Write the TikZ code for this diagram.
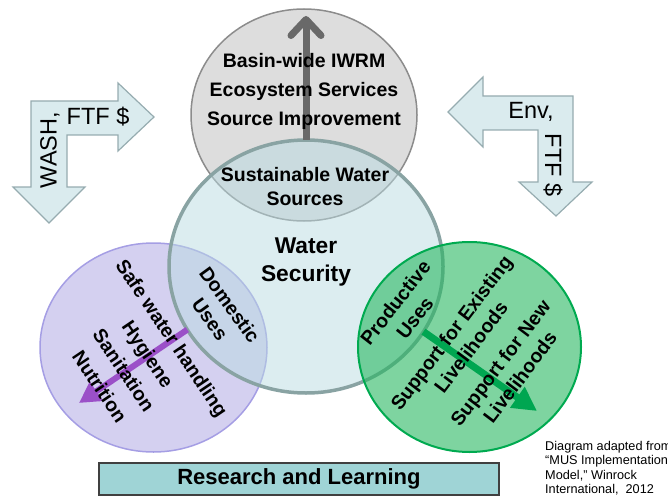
\documentclass[tikz,border=0pt]{standalone}
\usepackage{fontspec}
\setmainfont{Liberation Sans}
\usetikzlibrary{arrows.meta,shapes.geometric}

\definecolor{grisfond}{RGB}{221,221,221}
\definecolor{grisbord}{RGB}{140,140,140}
\definecolor{eaufond}{RGB}{185,219,225}
\definecolor{eaubord}{RGB}{137,163,163}
\definecolor{violetfond}{RGB}{212,208,240}
\definecolor{violetbord}{RGB}{165,158,228}
\definecolor{vertfond}{RGB}{40,183,97}
\definecolor{vertbord}{RGB}{0,170,80}
\definecolor{flechefond}{RGB}{218,235,238}
\definecolor{flechebord}{RGB}{150,172,176}
\definecolor{boitefond}{RGB}{159,212,214}
\definecolor{boitebord}{RGB}{64,64,64}
\definecolor{violetfleche}{RGB}{155,80,200}
\definecolor{vertfleche}{RGB}{0,166,81}
\definecolor{grisfleche}{RGB}{105,105,105}

\newcommand{\grastexte}{\fontsize{19.5}{29}\selectfont\bfseries}
\newcommand{\serretexte}{\fontsize{19.5}{24.5}\selectfont\bfseries}
\newcommand{\fintexte}{\fontsize{23.5}{28}\selectfont}

\begin{document}
\begin{tikzpicture}[x=1pt,y=-1pt,
  bulle/.style={ellipse,inner sep=0pt,outer sep=0pt},
  coude/.style={fill=flechefond,draw=flechebord,line width=1.2pt,line join=miter},
  texte/.style={align=center,inner sep=0pt,font=\grastexte}]
\useasboundingbox (0,0) rectangle (668,497);

% Fleches coudees (financements)
\draw[coude] (31,101) -- (118,101) -- (118,83) -- (154,117) -- (118,151) -- (118,135)
  -- (67,135) -- (67,187) -- (85,187) -- (49,223) -- (13,187) -- (31,187) -- cycle;
\draw[coude] (573,96) -- (573,182) -- (592,182) -- (556,216) -- (519,182) -- (538,182)
  -- (538,130) -- (483,130) -- (483,147) -- (448,112) -- (483,77) -- (483,96) -- cycle;
\node[font=\fintexte,rotate=90,inner sep=0pt] (wash) at (50,150) {WASH,};
\node[font=\fintexte,inner sep=0pt] (ftfg) at (98,117) {FTF \$};
\node[font=\fintexte,inner sep=0pt] (env) at (531,112) {Env,};
\node[font=\fintexte,rotate=-90,inner sep=0pt] (ftfd) at (553,165) {FTF \$};

% Bulles
\node[bulle,fill=grisfond,draw=grisbord,line width=1.5pt,
  minimum width=226pt,minimum height=212pt] (source) at (304,115) {};
\node[bulle,fill=violetfond,draw=violetbord,line width=1.5pt,
  minimum width=227pt,minimum height=209pt] (domestique) at (153.5,347.5) {};
\node[bulle,fill=eaufond,fill opacity=0.5,draw=eaubord,line width=3.5pt,
  minimum width=274pt,minimum height=253pt] (securite) at (306,266.5) {};
\node[bulle,fill=vertfond,fill opacity=0.6,draw=vertbord,line width=2pt,
  minimum width=223pt,minimum height=210pt] (productif) at (469.5,347) {};

% Fleches vers l'exterieur
\coordinate (haut) at (306,16);
\coordinate (basg) at (79,403);
\coordinate (basd) at (537,411);
\draw[grisfleche,line width=7pt,-{Straight Barb[length=16pt,width=30pt,round]}]
  (securite.north) -- (haut);
\draw[violetfleche,line width=6pt,-{Triangle[length=21pt,width=22pt]}]
  (securite.208) -- (basg);
\draw[vertfleche,line width=7pt,-{Triangle[length=24pt,width=24pt]}]
  (securite.331) -- (basd);

% Textes
\node[texte] (bassin) at (304,91.5) {Basin-wide IWRM\\Ecosystem Services\\Source Improvement};
\node[texte,font=\serretexte] (durable) at (305,186.5) {Sustainable Water\\Sources};
\node[texte,font=\fontsize{22.8}{28}\selectfont\bfseries] (eau) at (306,262) {Water\\Security};
\node[texte,font=\serretexte,rotate=-54] (usagesd) at (220,312) {Domestic\\Uses};
\node[texte,rotate=-56] (hygiene) at (136,362) {Safe water handling\\Hygiene\\Sanitation\\Nutrition};
\node[texte,font=\serretexte,rotate=52] (usagesp) at (405,310) {Productive\\Uses};
\node[texte,font=\serretexte,rotate=53] (existants) at (461,340) {Support for Existing\\Livelihoods};
\node[texte,font=\serretexte,rotate=53] (nouveaux) at (510,370) {Support for New\\Livelihoods};

% Bandeau du bas et credit
\node[draw=boitebord,fill=boitefond,line width=2.5pt,minimum width=400pt,minimum height=32pt,
  inner sep=0pt,font=\fontsize{22}{26}\selectfont\bfseries] (recherche) at (299,479) {Research and Learning};
\node[anchor=north west,align=left,inner sep=0pt,font=\fontsize{12.7}{14.4}\selectfont] (credit)
  at (545,441) {Diagram adapted from\\``MUS Implementation\\Model,'' Winrock\\International,~~2012};
\end{tikzpicture}
\end{document}
